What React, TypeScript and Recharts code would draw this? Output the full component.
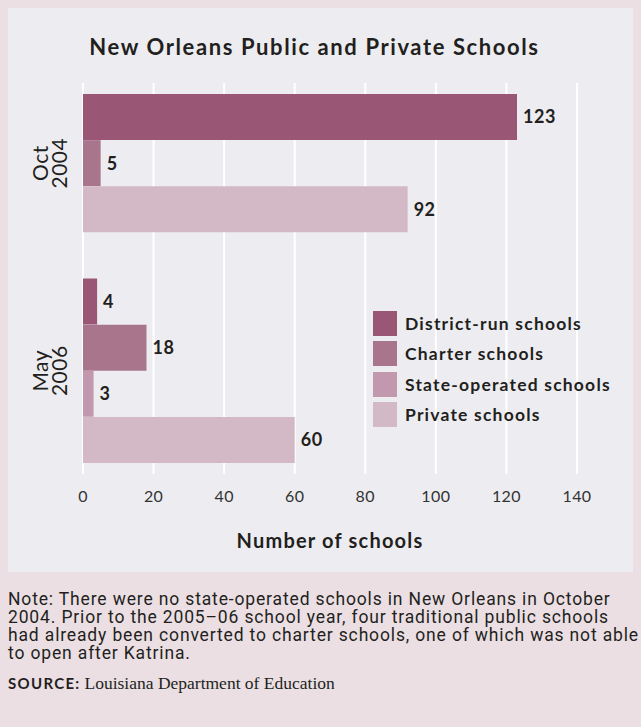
import React from "react";
import { BarChart, Bar, XAxis, YAxis, CartesianGrid, Cell, LabelList, Legend, Label } from "recharts";

const periods = ["Oct 2004", "May 2006"];
const seriesNames = ["District-run schools", "Charter schools", "State-operated schools", "Private schools"];
const seriesColors = ["#9a5775", "#a9758d", "#c198ad", "#d3b8c6"];
// no state-operated schools in Oct 2004
const oct2004: Array<number | null> = [123, 5, null, 92];
const may2006: Array<number | null> = [4, 18, 3, 60];
const xTicks = [0, 20, 40, 60, 80, 100, 120, 140];

const FONT = "Lato, 'Noto Sans', sans-serif";
const INK = "#231f20";

const CHART_W = 625;
const CHART_H = 564;
const MARGIN_TOP = 75;
const X_AXIS_H = 98;
const PAD = 11;

type Row = { key: string; value: number | null; color: string; group: string; groupSize: number; pos: number };

const buildRows = (): Row[] => {
  const rows: Row[] = [];
  const add = (label: string, values: Array<number | null>) => {
    const present = values.map((v, i) => ({ v, i })).filter((d) => d.v !== null);
    present.forEach((d, idx) =>
      rows.push({
        key: `${label}-${d.i}`,
        value: d.v,
        color: seriesColors[d.i],
        group: label,
        groupSize: present.length,
        pos: idx,
      })
    );
  };
  add(periods[0], oct2004);
  rows.push({ key: "gap", value: null, color: "none", group: "", groupSize: 0, pos: -1 });
  add(periods[1], may2006);
  return rows;
};

const rows = buildRows();
const plotH = CHART_H - MARGIN_TOP - X_AXIS_H - PAD * 2;
const ROW_H = plotH / rows.length;

const GroupTick = (props: any) => {
  const { y, payload } = props;
  const row = rows.find((r) => r.key === payload.value);
  if (!row || row.pos !== 0) return null;
  const cy = y + ((row.groupSize - 1) / 2) * ROW_H;
  const [a, b] = row.group.split(" ");
  return (
    <text
      transform={`translate(44, ${cy}) rotate(-90)`}
      textAnchor="middle"
      fontFamily={FONT}
      fontSize={21}
      fill={INK}
      letterSpacing={0.5}
    >
      <tspan x={0} dy="-0.2em">{a}</tspan>
      <tspan x={0} dy="0.9em">{b}</tspan>
    </text>
  );
};

const LegendBox = () => (
  <div style={{ fontFamily: FONT }}>
    {seriesNames.map((name, i) => (
      <div key={name} style={{ display: "flex", alignItems: "center", height: 30.5 }}>
        <div style={{ width: 24, height: 25, background: seriesColors[i], marginRight: 8 }} />
        <span style={{ fontSize: 17.5, fontWeight: 700, color: INK, letterSpacing: 1.2, whiteSpace: "nowrap" }}>
          {name}
        </span>
      </div>
    ))}
  </div>
);

export default function App() {
  return (
    <div style={{ position: "absolute", left: 0, top: 0, width: 641, height: 727, background: "#ebdfe4" }}>
      <div style={{ position: "absolute", left: 8, top: 8, width: CHART_W, height: CHART_H, background: "#ededf1" }}>
        <div
          style={{
            position: "absolute",
            left: 0,
            top: 27,
            width: 613,
            textAlign: "center",
            fontFamily: FONT,
            fontWeight: 700,
            fontSize: 22,
            lineHeight: "24px",
            letterSpacing: 1.6,
            color: INK,
          }}
        >
          New Orleans Public and Private Schools
        </div>
        <BarChart
          width={CHART_W}
          height={CHART_H}
          data={rows}
          layout="vertical"
          margin={{ top: MARGIN_TOP, right: 56, bottom: 0, left: 0 }}
          barCategoryGap={0}
        >
          <CartesianGrid horizontal={false} stroke="#ffffff" strokeWidth={2} />
          <XAxis
            type="number"
            domain={[0, 140]}
            ticks={xTicks}
            height={X_AXIS_H}
            axisLine={false}
            tickLine={false}
            tickMargin={11}
            tick={{ fontSize: 16, fill: "#333", fontFamily: FONT, letterSpacing: 0.4 }}
          >
            <Label
              value="Number of schools"
              position="insideBottom"
              offset={24}
              style={{ fontSize: 20, fontWeight: 700, fill: INK, fontFamily: FONT, letterSpacing: 1.2 }}
            />
          </XAxis>
          <YAxis
            type="category"
            dataKey="key"
            width={75}
            padding={{ top: PAD, bottom: PAD }}
            axisLine={false}
            tickLine={false}
            tick={<GroupTick />}
            interval={0}
          />
          <Legend
            layout="vertical"
            align="center"
            verticalAlign="middle"
            content={<LegendBox />}
            wrapperStyle={{ left: 365, top: 300, width: 250 }}
          />
          <Bar dataKey="value" isAnimationActive={false}>
            {rows.map((r) => (
              <Cell key={r.key} fill={r.color} />
            ))}
            <LabelList
              dataKey="value"
              position="right"
              offset={6}
              formatter={(v: any) => (v === null || v === undefined ? "" : v)}
              style={{ fontSize: 18, fontWeight: 700, fill: INK, fontFamily: FONT, letterSpacing: 0.5 }}
            />
          </Bar>
        </BarChart>
      </div>
      <div
        style={{
          position: "absolute",
          left: 8,
          top: 590,
          fontFamily: "Roboto, sans-serif",
          fontSize: 17.5,
          lineHeight: "18px",
          letterSpacing: 0.85,
          color: INK,
          whiteSpace: "nowrap",
        }}
      >
        Note: There were no state-operated schools in New Orleans in October
        <br />
        2004. Prior to the 2005–06 school year, four traditional public schools
        <br />
        had already been converted to charter schools, one of which was not able
        <br />
        to open after Katrina.
      </div>
      <div style={{ position: "absolute", left: 8, top: 673, color: INK, whiteSpace: "nowrap" }}>
        <span style={{ fontFamily: FONT, fontWeight: 700, fontSize: 15, letterSpacing: 1.3 }}>SOURCE:</span>{" "}
        <span style={{ fontFamily: "'Liberation Serif', serif", fontSize: 17.5 }}>Louisiana Department of Education</span>
      </div>
    </div>
  );
}
